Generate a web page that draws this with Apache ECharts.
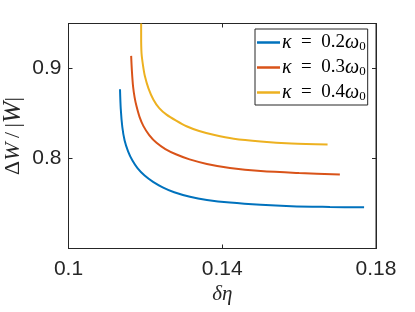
<!DOCTYPE html>
<html><head><meta charset="utf-8">
<script src="https://cdn.jsdelivr.net/npm/echarts@6/dist/echarts.min.js"></script>
<style>html,body{margin:0;padding:0;background:#fff}#c{width:415px;height:312px}</style>
</head><body><div id="c"></div>
<script>
const kappas = ['0.2', '0.3', '0.4'];
const colors = ['#0072BD', '#D95319', '#EDB120'];
const xTicks = [0.1, 0.14, 0.18];
const yTicks = [0.8, 0.9];

const blueX = [0.1134, 0.1136, 0.1140, 0.1146, 0.1155, 0.1166, 0.1180, 0.1198, 0.1220, 0.1245, 0.1275, 0.1316, 0.1360, 0.1420, 0.1500, 0.1580, 0.1680, 0.1769];
const blueY = [0.877, 0.855, 0.835, 0.820, 0.808, 0.798, 0.789, 0.781, 0.774, 0.768, 0.7625, 0.7575, 0.7540, 0.7510, 0.7485, 0.7470, 0.7462, 0.7457];
const redX = [0.1163, 0.1165, 0.1168, 0.1172, 0.1177, 0.1185, 0.1195, 0.1210, 0.1229, 0.1252, 0.1281, 0.1315, 0.1360, 0.1420, 0.1500, 0.1600, 0.1706];
const redY = [0.914, 0.897, 0.880, 0.868, 0.858, 0.846, 0.836, 0.826, 0.8174, 0.8105, 0.8044, 0.7990, 0.7940, 0.7895, 0.7860, 0.7838, 0.7822];
const yellowX = [0.1189, 0.1189, 0.1190, 0.1194, 0.1199, 0.1208, 0.1221, 0.1236, 0.1255, 0.1280, 0.1307, 0.1340, 0.1380, 0.1430, 0.1500, 0.1580, 0.1674];
const yellowY = [0.950, 0.935, 0.917, 0.903, 0.891, 0.878, 0.8653, 0.856, 0.8487, 0.8420, 0.8358, 0.8305, 0.8260, 0.8220, 0.8190, 0.8168, 0.8155];

const xs = [blueX, redX, yellowX];
const ys = [blueY, redY, yellowY];
const names = kappas.map(k => 'κ = ' + k + 'ω0');

const axisCol = '#262626';
const serif = '"Liberation Serif", "DejaVu Serif", serif';
const sans = '"Liberation Sans", Arial, sans-serif';

const series = names.map((n, i) => ({
  name: n,
  type: 'line',
  data: xs[i].map((x, j) => [x, ys[i][j]]),
  showSymbol: false,
  smooth: 0.3,
  lineStyle: { color: colors[i], width: 2 },
  itemStyle: { color: colors[i] },
  clip: true
}));

const chart = echarts.init(document.getElementById('c'), null, { renderer: 'canvas' });
chart.setOption({
  animation: false,
  backgroundColor: '#fff',
  grid: { left: 68.5, right: 39, top: 23.5, bottom: 63.5, containLabel: false, outerBoundsMode: 'none',
    show: true, borderColor: axisCol, borderWidth: 1, backgroundColor: 'transparent' },
  legend: {
    orient: 'vertical', left: 255, top: 29,
    padding: [3, 2, 2, 2],
    itemWidth: 23, itemHeight: 2.5, itemGap: 4,
    icon: 'rect',
    borderColor: axisCol, borderWidth: 1, backgroundColor: '#fff',
    data: names,
    formatter: function (n) {
      const k = kappas[names.indexOf(n)];
      return '{i|κ}{n|\u2002=\u2002' + k + '}{i|ω}{s|0}';
    },
    textStyle: {
      color: '#000', fontSize: 19, lineHeight: 21, padding: [0, 0, 0, -3],
      rich: {
        i: { fontFamily: serif, fontStyle: 'italic', fontSize: 20, color: '#000', lineHeight: 21 },
        n: { fontFamily: serif, fontSize: 19, color: '#000', lineHeight: 21 },
        s: { fontFamily: serif, fontSize: 13, color: '#000', lineHeight: 21, padding: [8, 0, 0, 0] }
      }
    }
  },
  xAxis: [{
    type: 'value', min: 0.1, max: 0.18, interval: 0.04, position: 'bottom',
    axisLine: { show: true, lineStyle: { color: axisCol } },
    axisTick: { show: true, inside: true, length: 4, lineStyle: { color: axisCol } },
    splitLine: { show: false },
    axisLabel: { color: axisCol, fontSize: 21, fontFamily: sans, margin: 10,
      formatter: v => { const t = xTicks.find(a => Math.abs(a - v) < 1e-9); return t === undefined ? '' : String(t); } },
    name: 'δη', nameLocation: 'middle', nameGap: 30,
    nameTextStyle: { fontFamily: serif, fontStyle: 'italic', fontSize: 21, color: axisCol }
  }, {
    type: 'value', min: 0.1, max: 0.18, interval: 0.04, position: 'top',
    axisLine: { show: true, lineStyle: { color: axisCol } },
    axisTick: { show: true, inside: true, length: 4, lineStyle: { color: axisCol } },
    axisLabel: { show: false }, splitLine: { show: false }
  }],
  yAxis: [{
    type: 'value', min: 0.7, max: 0.95, interval: 0.1, position: 'left',
    axisLine: { show: true, lineStyle: { color: axisCol } },
    axisTick: { show: true, inside: true, length: 4, lineStyle: { color: axisCol } },
    splitLine: { show: false },
    axisLabel: { color: axisCol, fontSize: 21, fontFamily: sans, margin: 7,
      formatter: v => { const t = yTicks.find(a => Math.abs(a - v) < 1e-9); return t === undefined ? '' : String(t); } },
    name: '{n|Δ}{i|W}{n|\u2009/\u2009|}{c|W}{n||}', nameLocation: 'middle', nameGap: 42, nameRotate: 90,
    nameMoveOverlap: false,
    nameTextStyle: { color: axisCol, fontSize: 22,
      rich: {
        n: { fontFamily: serif, fontSize: 22, color: axisCol },
        i: { fontFamily: serif, fontStyle: 'italic', fontSize: 22, color: axisCol },
        c: { fontFamily: serif, fontStyle: 'italic', fontSize: 26, color: axisCol }
      } }
  }, {
    type: 'value', min: 0.7, max: 0.95, interval: 0.1, position: 'right',
    axisLine: { show: true, lineStyle: { color: axisCol } },
    axisTick: { show: true, inside: true, length: 4, lineStyle: { color: axisCol } },
    axisLabel: { show: false }, splitLine: { show: false }
  }],
  series: series
});
</script></body></html>
